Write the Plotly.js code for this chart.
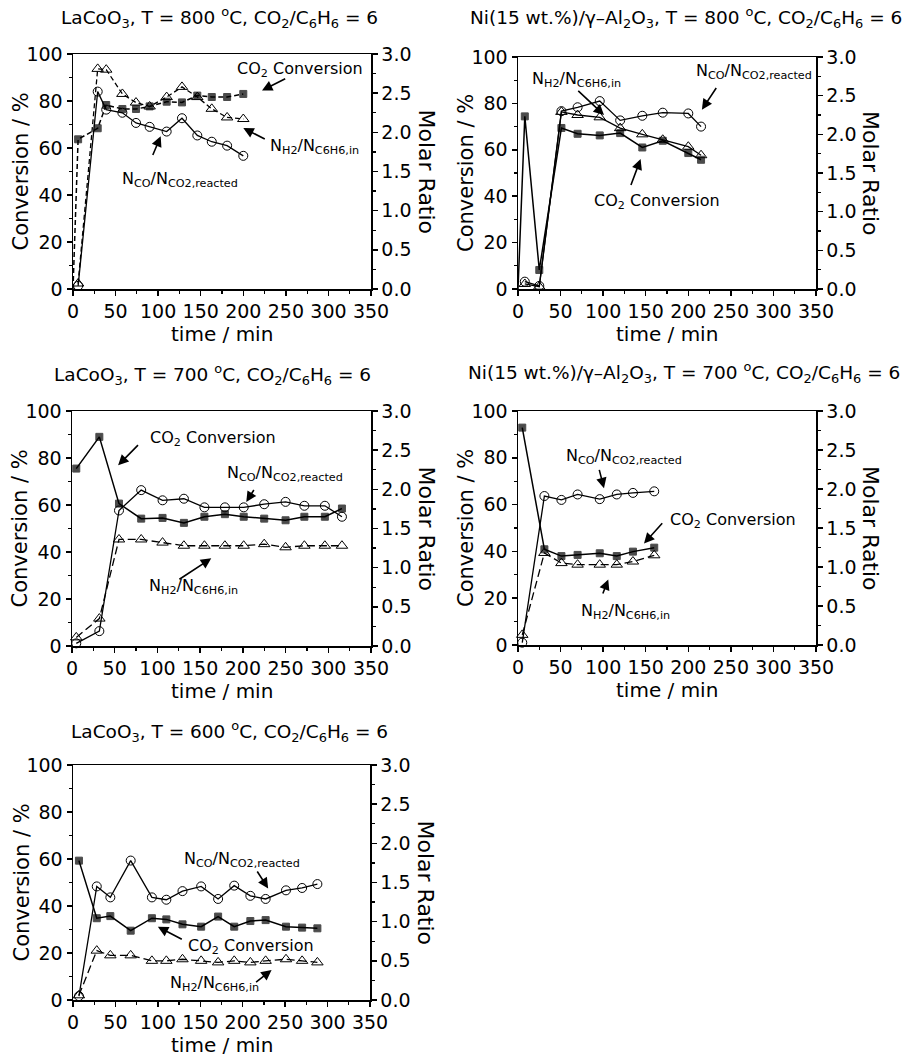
<!DOCTYPE html>
<html><head><meta charset="utf-8">
<script src="https://cdn.plot.ly/plotly-3.0.1.min.js"></script>
<style>html,body{margin:0;padding:0;background:#fff}#chart{width:906px;height:1058px}</style>
</head><body><div id="chart"></div>
<script>
// ---------- data ----------
const panelTitles = [
  "LaCoO<sub>3</sub>, T = 800 <sup>o</sup>C, CO<sub>2</sub>/C<sub>6</sub>H<sub>6</sub> = 6",
  "Ni(15 wt.%)/γ–Al<sub>2</sub>O<sub>3</sub>, T = 800 <sup>o</sup>C, CO<sub>2</sub>/C<sub>6</sub>H<sub>6</sub> = 6",
  "LaCoO<sub>3</sub>, T = 700 <sup>o</sup>C, CO<sub>2</sub>/C<sub>6</sub>H<sub>6</sub> = 6",
  "Ni(15 wt.%)/γ–Al<sub>2</sub>O<sub>3</sub>, T = 700 <sup>o</sup>C, CO<sub>2</sub>/C<sub>6</sub>H<sub>6</sub> = 6",
  "LaCoO<sub>3</sub>, T = 600 <sup>o</sup>C, CO<sub>2</sub>/C<sub>6</sub>H<sub>6</sub> = 6"
];
const labelCO2 = "CO<sub>2</sub> Conversion";
const labelH2 = "N<sub>H2</sub>/N<sub>C6H6,in</sub>";
const labelCO = "N<sub>CO</sub>/N<sub>CO2,reacted</sub>";
const xTitle = "time / min";
const yLeftTitle = "Conversion / %";
const yRightTitle = "Molar Ratio";

// Panel 1: LaCoO3, 800 C
const time1 = [6, 29, 39, 58, 74, 90, 110, 128, 146, 163, 181, 200];
const convTime1 = [0, 6, 29, 39, 58, 74, 90, 110, 128, 146, 163, 181, 200];
const conv1 = [0, 63.7, 68.4, 78.3, 76.6, 76.6, 77.7, 79.7, 79.4, 82.3, 81.7, 81.7, 83.0];
const h2Ratio1 = [0.07, 2.81, 2.80, 2.49, 2.38, 2.33, 2.45, 2.58, 2.45, 2.30, 2.19, 2.17];
const coRatio1 = [0.04, 2.52, 2.29, 2.25, 2.12, 2.07, 2.01, 2.18, 1.96, 1.88, 1.83, 1.70];

// Panel 2: Ni/Al2O3, 800 C
const time2 = [8, 25, 51, 70, 96, 120, 146, 170, 200, 215];
const convTime2 = [0, 8, 25, 51, 70, 96, 120, 146, 170, 200, 215];
const conv2 = [0, 74.4, 8.2, 69.4, 66.9, 66.2, 67.2, 61.0, 63.9, 58.6, 55.7];
const h2Ratio2 = [0.065, 0.03, 2.29, 2.25, 2.22, 2.08, 2.00, 1.93, 1.84, 1.73];
const coRatio2 = [0.095, 0.04, 2.30, 2.35, 2.43, 2.18, 2.24, 2.28, 2.27, 2.10];

// Panel 3: LaCoO3, 700 C
const time3 = [5, 32, 55, 81, 106, 131, 155, 179, 201, 225, 250, 272, 296, 316];
const conv3 = [75.5, 89.0, 60.6, 54.2, 54.5, 52.4, 55.0, 56.1, 55.0, 54.2, 53.5, 55.0, 55.0, 58.5];
const h2Ratio3 = [0.11, 0.35, 1.36, 1.36, 1.32, 1.28, 1.28, 1.28, 1.28, 1.30, 1.26, 1.28, 1.28, 1.28];
const coRatio3 = [0.034, 0.19, 1.73, 1.99, 1.86, 1.88, 1.77, 1.77, 1.77, 1.81, 1.84, 1.79, 1.79, 1.65];

// Panel 4: Ni/Al2O3, 700 C
const time4 = [5, 31, 51, 70, 96, 116, 135, 160];
const conv4 = [92.9, 40.9, 38.0, 38.5, 39.2, 38.0, 39.9, 41.6];
const h2Ratio4 = [0.13, 1.18, 1.05, 1.03, 1.03, 1.03, 1.07, 1.15];
const coRatio4 = [0.03, 1.91, 1.86, 1.93, 1.87, 1.93, 1.95, 1.97];

// Panel 5: LaCoO3, 600 C
const time5 = [7, 28, 44, 68, 93, 110, 129, 151, 171, 190, 209, 227, 251, 270, 288];
const conv5 = [59.3, 34.8, 35.7, 29.5, 34.8, 34.3, 32.2, 31.2, 35.5, 31.2, 33.6, 34.0, 31.2, 30.8, 30.5];
const h2Ratio5 = [0.06, 0.63, 0.57, 0.57, 0.50, 0.50, 0.52, 0.50, 0.48, 0.50, 0.48, 0.50, 0.52, 0.50, 0.48];
const coRatio5 = [0.05, 1.45, 1.31, 1.78, 1.31, 1.28, 1.39, 1.45, 1.29, 1.46, 1.33, 1.29, 1.40, 1.43, 1.48];

const xTickVals = [0, 50, 100, 150, 200, 250, 300, 350];
const yLeftTicks = [0, 20, 40, 60, 80, 100];
const yRightTicks = [0, 0.5, 1.0, 1.5, 2.0, 2.5, 3.0];

// label annotations: [text, textX, textY, tailX, tailY, headX, headY] in (time, conversion) units
const labels1 = [
  [labelCO2, 267, 93.3, 251, 89.8, 222, 84.5],
  [labelH2, 284, 60.6, 227, 63.5, 200, 68.5],
  [labelCO, 126, 46.4, 93, 56.4, 103, 65]
];
const labels2 = [
  [labelH2, 69, 90.2, 69, 86, 101, 75],
  [labelCO, 277, 93.8, 234, 87.3, 216, 77.3],
  [labelCO2, 163, 37.7, 132, 44.2, 144, 56]
];
const labels3 = [
  [labelCO2, 165, 88.2, 79, 86.1, 54, 76.9],
  [labelCO, 249, 73.4, 214, 67, 204, 61.3],
  [labelH2, 142, 25.2, 124, 28, 163, 37.3]
];
const labels4 = [
  [labelCO, 124, 80.5, 95, 75.5, 101, 67],
  [labelCO2, 253, 53.4, 171, 52.7, 148, 43.4],
  [labelH2, 126, 14.2, 99, 21.4, 106, 28]
];
const labels5 = [
  [labelCO, 199, 59.6, 216, 55.3, 230, 47.5],
  [labelCO2, 210, 22.7, 130, 25.5, 100, 31.2],
  [labelH2, 167, 7.1, 214, 7.1, 234, 12.8]
];

// ---------- layout geometry (pixels) ----------
const W = 906, H = 1058;
const px = v => v / W, py = v => 1 - v / H;
const panels = [
  {x0: 73, x1: 371, y0: 54, y1: 289, tx: 219, tAnchor: 'center', ty: 17, tc: time1, ct: convTime1, conv: conv1, h2: h2Ratio1, co: coRatio1, lab: labels1, convDash: '5px,3px', h2Dash: '5px,3px'},
  {x0: 518, x1: 816, y0: 57, y1: 289, tx: 904, tAnchor: 'right', ty: 17, tc: time2, ct: convTime2, conv: conv2, h2: h2Ratio2, co: coRatio2, lab: labels2, convDash: 'solid', h2Dash: 'solid'},
  {x0: 72, x1: 371, y0: 411, y1: 646, tx: 212, tAnchor: 'center', ty: 375, tc: time3, ct: time3, conv: conv3, h2: h2Ratio3, co: coRatio3, lab: labels3, convDash: 'solid', h2Dash: '8px,4px'},
  {x0: 518, x1: 816, y0: 411, y1: 645, tx: 902, tAnchor: 'right', ty: 373, tc: time4, ct: time4, conv: conv4, h2: h2Ratio4, co: coRatio4, lab: labels4, convDash: 'solid', h2Dash: '8px,4px'},
  {x0: 73, x1: 370, y0: 765, y1: 1000, tx: 229, tAnchor: 'center', ty: 731, tc: time5, ct: time5, conv: conv5, h2: h2Ratio5, co: coRatio5, lab: labels5, convDash: 'solid', h2Dash: '8px,4px'}
];

const FONT = 'DejaVu Sans, Liberation Sans, sans-serif';
const traces = [];
const layout = {
  width: W, height: H, margin: {l: 0, r: 0, t: 0, b: 0},
  paper_bgcolor: '#fff', plot_bgcolor: 'rgba(0,0,0,0)',
  showlegend: false, font: {family: FONT, color: '#000', size: 18},
  annotations: []
};

panels.forEach((p, i) => {
  const n = i + 1;
  const xa = 'x' + (n === 1 ? '' : n), ya = 'y' + (n === 1 ? '' : n);
  const yr = 'y' + (n + 5);
  const xKey = 'xaxis' + (n === 1 ? '' : n), yKey = 'yaxis' + (n === 1 ? '' : n);
  const common = {showgrid: false, zeroline: false, linecolor: '#000', linewidth: 1.5,
    tickcolor: '#000', tickwidth: 1.5, ticklen: 5,
    tickfont: {family: FONT, size: 19, color: '#000'}};
  layout[xKey] = Object.assign({}, common, {
    domain: [px(p.x0), px(p.x1)], anchor: ya, range: [0, 350],
    tickmode: 'array', tickvals: xTickVals, ticks: 'outside', showline: true, mirror: true,
    minor: {ticks: 'outside', dtick: 25, ticklen: 3, tickcolor: '#000', tickwidth: 1.2}
  });
  layout[yKey] = Object.assign({}, common, {
    domain: [py(p.y1), py(p.y0)], anchor: xa, range: [0, 100],
    tickmode: 'array', tickvals: yLeftTicks, ticks: 'outside', showline: true,
    minor: {ticks: 'outside', dtick: 10, ticklen: 3, tickcolor: '#000', tickwidth: 1.2}
  });
  layout['yaxis' + (n + 5)] = Object.assign({}, common, {
    overlaying: ya, side: 'right', anchor: xa, range: [0, 3],
    tickmode: 'array', tickvals: yRightTicks, tickformat: '.1f', ticks: 'outside', showline: true,
    minor: {ticks: 'outside', dtick: 0.25, ticklen: 3, tickcolor: '#000', tickwidth: 1.2}
  });
  layout['xaxis' + (n + 5)] = Object.assign({}, common, {
    overlaying: xa, side: 'top', anchor: ya, range: [0, 350],
    tickmode: 'array', tickvals: xTickVals, ticks: 'inside', showline: false, showticklabels: false,
    minor: {ticks: 'inside', dtick: 25, ticklen: 3, tickcolor: '#000', tickwidth: 1.2}
  });

  // traces
  traces.push({
    x: p.ct, y: p.conv, xaxis: xa, yaxis: ya, type: 'scatter', mode: 'lines+markers', cliponaxis: false,
    name: 'CO2 Conversion',
    line: {color: '#000', width: 1.5, dash: p.convDash},
    marker: {symbol: 'square', color: '#000', size: p.ct.map(t => t === 0 ? 0 : 7),
      line: {color: '#000', width: p.ct.map(t => t === 0 ? 0 : 1)}}
  });
  traces.push({
    x: p.tc, y: p.h2, xaxis: xa, yaxis: yr, type: 'scatter', mode: 'lines+markers', cliponaxis: false,
    name: 'NH2/NC6H6,in',
    line: {color: '#000', width: 1.3, dash: p.h2Dash},
    marker: {symbol: 'triangle-up-open', color: '#000', size: 10, line: {width: 1}}
  });
  traces.push({
    x: p.tc, y: p.co, xaxis: xa, yaxis: yr, type: 'scatter', mode: 'lines+markers', cliponaxis: false,
    name: 'NCO/NCO2,reacted',
    line: {color: '#000', width: 1.3},
    marker: {symbol: 'circle-open', color: '#000', size: 9, line: {width: 1}}
  });

  // panel title
  layout.annotations.push({xref: 'paper', yref: 'paper', x: px(p.tx), y: py(p.ty), xanchor: p.tAnchor, yanchor: 'middle',
    text: panelTitles[i], showarrow: false, font: {family: FONT, size: 18.5, color: '#000'}});
  // x-axis title
  layout.annotations.push({xref: 'paper', yref: 'paper', x: px((p.x0 + p.x1) / 2), y: py(p.y1 + 45), xanchor: 'center', yanchor: 'middle',
    text: xTitle, showarrow: false, font: {family: FONT, size: 20, color: '#000'}});
  // left y title
  layout.annotations.push({xref: 'paper', yref: 'paper', x: px(p.x0 - 52), y: py((p.y0 + p.y1) / 2), xanchor: 'center', yanchor: 'middle',
    text: yLeftTitle, textangle: -90, showarrow: false, font: {family: FONT, size: 21, color: '#000'}});
  // right y title
  layout.annotations.push({xref: 'paper', yref: 'paper', x: px(p.x1 + 55), y: py((p.y0 + p.y1) / 2), xanchor: 'center', yanchor: 'middle',
    text: yRightTitle, textangle: 90, showarrow: false, font: {family: FONT, size: 22, color: '#000'}});

  // series labels with arrows
  p.lab.forEach(l => {
    layout.annotations.push({xref: xa, yref: ya, x: l[1], y: l[2], text: l[0], showarrow: false,
      xanchor: 'center', yanchor: 'middle', font: {family: FONT, size: 16, color: '#000'}});
    layout.annotations.push({xref: xa, yref: ya, axref: xa, ayref: ya, x: l[5], y: l[6], ax: l[3], ay: l[4],
      text: '', showarrow: true, arrowhead: 2, arrowsize: 1.3, arrowwidth: 1.6, arrowcolor: '#000', standoff: 0});
  });
});

Plotly.newPlot('chart', traces, layout, {staticPlot: true});
</script></body></html>
